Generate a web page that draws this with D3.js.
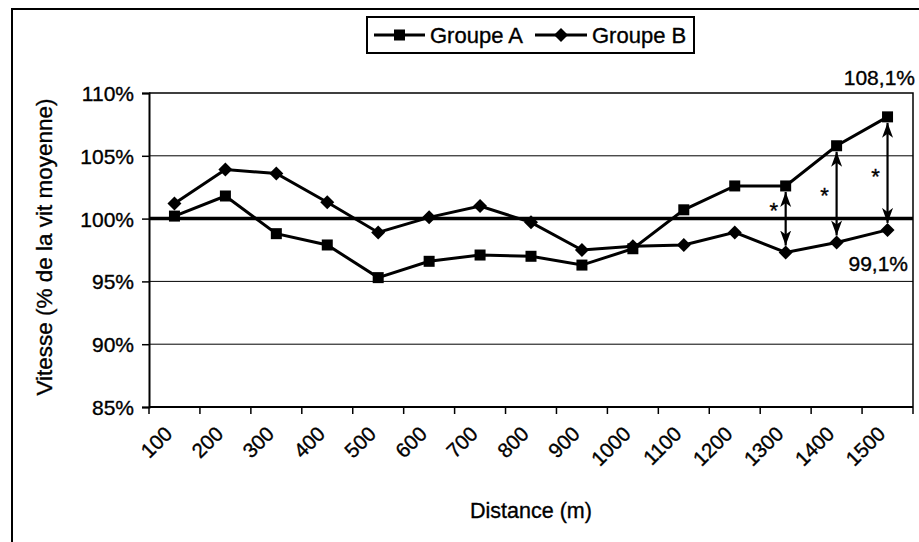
<!DOCTYPE html>
<html><head><meta charset="utf-8">
<script src="https://cdn.jsdelivr.net/npm/d3@7"></script>
<style>body{margin:0;background:#fff}svg{display:block}text{font-family:"Liberation Sans",Arial,sans-serif;fill:#000;stroke:#000;stroke-width:0.35px}</style>
</head><body>
<svg id="c" width="919" height="542"></svg>
<script>
const categories = [100,200,300,400,500,600,700,800,900,1000,1100,1200,1300,1400,1500];
const groupA = [100.2,101.8,98.8,97.9,95.3,96.6,97.1,97.0,96.3,97.6,100.7,102.6,102.6,105.8,108.1];
const groupB = [101.2,103.9,103.6,101.3,98.9,100.1,101.0,99.7,97.5,97.8,97.9,98.9,97.3,98.1,99.1];
const yTicks = [85,90,95,100,105,110];
const gridValues = [90,95,105];
const signif = [1300,1400,1500];
const seriesNames = ["Groupe A","Groupe B"];
const endLabels = ["108,1%","99,1%"];

const svg = d3.select("#c");
const L=149, R=913, T=93, B=407;
const x = d3.scaleBand().domain(categories).range([L,R]).padding(0);
const y = d3.scaleLinear().domain([85,110]).range([B,T]);
const cx = d => x(d)+x.bandwidth()/2;

// outer frame
svg.append("rect").attr("x",12).attr("y",9).attr("width",930).attr("height",560)
  .attr("fill","none").attr("stroke","#000").attr("stroke-width",2);

// gridlines
svg.append("g").selectAll("line").data(gridValues).join("line")
  .attr("x1",L).attr("x2",R).attr("y1",d=>y(d)).attr("y2",d=>y(d))
  .attr("stroke","#000").attr("stroke-width",1);
svg.append("path").attr("d",`M${L},${y(110)}H${R}V${B}`).attr("fill","none").attr("stroke","#000").attr("stroke-width",1.5);
svg.append("line").attr("x1",L).attr("x2",R).attr("y1",y(100)).attr("y2",y(100))
  .attr("stroke","#000").attr("stroke-width",3.5);

// y axis
const ya = svg.append("g").attr("transform",`translate(${L},0)`)
  .call(d3.axisLeft(y).tickValues(yTicks).tickFormat(d=>d+"%").tickSize(7).tickPadding(8));
ya.select(".domain").attr("stroke","#000").attr("stroke-width",2);
ya.selectAll("line").attr("stroke","#000").attr("stroke-width",1.5);
ya.selectAll("text").style("font-size","21px").attr("dy","0.36em");

// x axis
const xTickScale = d3.scaleLinear().domain([0,categories.length]).range([L,R]);
const xa = svg.append("g").attr("transform",`translate(0,${B})`);
xa.append("line").attr("x1",L).attr("x2",R).attr("stroke","#000").attr("stroke-width",2);
xa.selectAll("line.t").data(d3.range(categories.length+1)).join("line").attr("class","t")
  .attr("x1",d=>xTickScale(d)).attr("x2",d=>xTickScale(d)).attr("y1",0).attr("y2",7)
  .attr("stroke","#000").attr("stroke-width",1.5);
xa.selectAll("text").data(categories).join("text")
  .attr("transform",d=>`translate(${cx(d)-6},${23}) rotate(-45)`)
  .attr("text-anchor","end").attr("dy","0.35em").style("font-size","20.5px").text(d=>d);

// axis titles
svg.append("text").attr("transform","translate(52,247) rotate(-90)").attr("text-anchor","middle")
  .style("font-size","22.5px").text("Vitesse (% de la vit moyenne)");
svg.append("text").attr("x",531).attr("y",518).attr("text-anchor","middle")
  .style("font-size","21.5px").text("Distance (m)");

// series
const line = d3.line().x((d,i)=>cx(categories[i])).y(d=>y(d));
[groupA,groupB].forEach(s=>{
  svg.append("path").datum(s).attr("d",line).attr("fill","none").attr("stroke","#000").attr("stroke-width",3);
});
const sq = 11, dm = 7;
svg.append("g").selectAll("rect").data(groupA).join("rect")
  .attr("x",(d,i)=>cx(categories[i])-sq/2).attr("y",d=>y(d)-sq/2).attr("width",sq).attr("height",sq).attr("fill","#000");
svg.append("g").selectAll("path").data(groupB).join("path")
  .attr("d",(d,i)=>{const px=cx(categories[i]),py=y(d);return `M${px},${py-dm}L${px+dm},${py}L${px},${py+dm}L${px-dm},${py}Z`;})
  .attr("fill","#000");

// arrows
const defs = svg.append("defs");
defs.append("marker").attr("id","ah").attr("viewBox","0 0 16 12").attr("refX",15).attr("refY",6)
  .attr("markerWidth",16).attr("markerHeight",12).attr("markerUnits","userSpaceOnUse").attr("orient","auto-start-reverse")
  .append("path").attr("d","M0,0.5 L15,6 L0,11.5 L4,6 Z").attr("fill","#000");
const starShift = [-1, 9, 11];
signif.forEach((c,k)=>{
  const i = categories.indexOf(c);
  const px = cx(c), ya_ = y(groupA[i])+6, yb = y(groupB[i])-7;
  svg.append("line").attr("x1",px).attr("x2",px).attr("y1",ya_).attr("y2",yb)
    .attr("stroke","#000").attr("stroke-width",2.2)
    .attr("marker-start","url(#ah)").attr("marker-end","url(#ah)");
  const mid = (y(groupA[i])+y(groupB[i]))/2;
  svg.append("text").attr("x",px-12).attr("y",mid+starShift[k]).attr("text-anchor","middle")
    .style("font-size","22px").text("*");
});

// end labels
svg.append("text").attr("x",915).attr("y",85).attr("text-anchor","end").style("font-size","21px").text(endLabels[0]);
svg.append("text").attr("x",908).attr("y",271).attr("text-anchor","end").style("font-size","21px").text(endLabels[1]);

// legend
const lg = svg.append("g");
lg.append("rect").attr("x",367).attr("y",17).attr("width",327).attr("height",36)
  .attr("fill","#fff").attr("stroke","#000").attr("stroke-width",2);
const legItems = [{x0:374,x1:425,tx:430,type:"sq"},{x0:535,x1:587,tx:592,type:"dm"}];
legItems.forEach((it,k)=>{
  const ly = 35;
  lg.append("line").attr("x1",it.x0).attr("x2",it.x1).attr("y1",ly).attr("y2",ly).attr("stroke","#000").attr("stroke-width",3);
  const mx=(it.x0+it.x1)/2;
  if(it.type==="sq") lg.append("rect").attr("x",mx-sq/2).attr("y",ly-sq/2).attr("width",sq).attr("height",sq).attr("fill","#000");
  else lg.append("path").attr("d",`M${mx},${ly-dm}L${mx+dm},${ly}L${mx},${ly+dm}L${mx-dm},${ly}Z`).attr("fill","#000");
  lg.append("text").attr("x",it.tx).attr("y",ly).attr("dy","0.36em").style("font-size","22px").text(seriesNames[k]);
});
</script>
</body></html>
